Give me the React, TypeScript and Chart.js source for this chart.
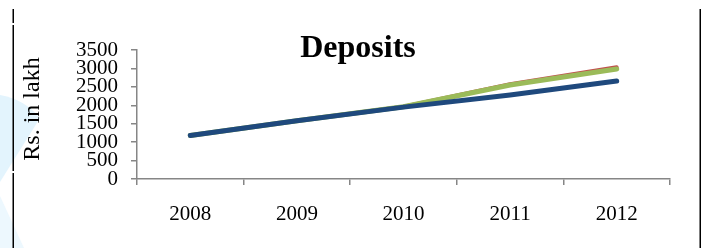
import React, { useEffect, useRef } from "react";
import { Chart, registerables } from "chart.js";

Chart.register(...registerables);

const years = ["2008", "2009", "2010", "2011", "2012"];
const seriesBlue = [1180, 1580, 1950, 2280, 2660];
const seriesGreen = [1180, 1580, 1960, 2550, 2985];
const seriesRed = [1180, 1580, 1960, 2570, 3030];
const yMin = 0;
const yMax = 3500;
const yStep = 500;
const chartTitle = "Deposits";
const yTitle = "Rs. in lakh";

const FONT = "'Liberation Serif', 'Times New Roman', serif";

const titlePlugin = {
  id: "customTitle",
  afterDraw(chart: any) {
    const ctx = chart.ctx;
    ctx.save();
    ctx.font = `bold 32px ${FONT}`;
    ctx.fillStyle = "#000";
    ctx.textAlign = "center";
    ctx.textBaseline = "alphabetic";
    ctx.fillText(chartTitle, 358, 57);
    ctx.translate(33, 109);
    ctx.rotate(-Math.PI / 2);
    ctx.font = `24px ${FONT}`;
    ctx.textBaseline = "middle";
    ctx.fillText(yTitle, 0, 0);
    ctx.restore();
  },
};

export default function App() {
  const ref = useRef<HTMLCanvasElement | null>(null);

  useEffect(() => {
    if (!ref.current) return;
    const chart = new Chart(ref.current, {
      type: "line",
      data: {
        labels: years,
        datasets: [
          {
            label: "Series 3",
            data: seriesBlue,
            borderColor: "#1F497D",
            backgroundColor: "#1F497D",
            borderWidth: 5,
            pointRadius: 0,
            borderCapStyle: "round",
            borderJoinStyle: "round",
            tension: 0,
          },
          {
            label: "Series 2",
            data: seriesGreen,
            borderColor: "#9BBB59",
            backgroundColor: "#9BBB59",
            borderWidth: 5,
            pointRadius: 0,
            borderCapStyle: "round",
            borderJoinStyle: "round",
            tension: 0,
          },
          {
            label: "Series 1",
            data: seriesRed,
            borderColor: "#C0504D",
            backgroundColor: "#C0504D",
            borderWidth: 4,
            pointRadius: 0,
            borderCapStyle: "round",
            borderJoinStyle: "round",
            tension: 0,
          },
        ],
      },
      options: {
        animation: false,
        responsive: false,
        maintainAspectRatio: false,
        layout: { padding: { top: 50, right: 32, left: 0, bottom: 0 } },
        plugins: {
          legend: { display: false },
          title: { display: false },
          tooltip: { enabled: false },
        },
        scales: {
          x: {
            type: "category",
            offset: true,
            afterFit: (s: any) => {
              s.height = 69;
            },
            grid: {
              offset: true,
              drawOnChartArea: false,
              drawTicks: true,
              tickLength: 6,
              color: "#868686",
              lineWidth: 1.5,
            },
            border: { color: "#868686", width: 1.5 },
            ticks: {
              font: { family: FONT, size: 21 },
              color: "#000",
              padding: 17,
              maxRotation: 0,
            },
          },
          y: {
            min: yMin,
            max: yMax,
            afterFit: (s: any) => {
              s.width = 137;
            },
            grid: {
              drawOnChartArea: false,
              drawTicks: true,
              tickLength: 6,
              color: "#868686",
              lineWidth: 1.5,
            },
            border: { color: "#868686", width: 1.5 },
            ticks: {
              stepSize: yStep,
              autoSkip: false,
              font: { family: FONT, size: 21, lineHeight: 1 },
              color: "#000",
              padding: 13,
              callback: (v: any) => String(v),
            },
          },
        },
      },
      plugins: [titlePlugin],
    });
    return () => chart.destroy();
  }, []);

  return (
    <div
      style={{
        position: "fixed",
        left: 0,
        top: 0,
        width: 702,
        height: 248,
        background: "#fff",
        overflow: "hidden",
      }}
    >
      <svg
        width={702}
        height={248}
        style={{ position: "absolute", left: 0, top: 0 }}
      >
        <path d="M0,95 Q24,99 40,118 L0,182 Z" fill="#E3F4FD" />
        <path d="M0,196 L24,248 L0,248 Z" fill="#EDF8FE" />
        <rect x={12.5} y={9} width={1.5} height={14} fill="#000" />
        <rect x={12.5} y={25} width={1.5} height={146} fill="#000" />
        <rect x={12.5} y={173} width={1.5} height={75} fill="#000" />
        <rect x={699.5} y={9} width={1.5} height={239} fill="#000" />
      </svg>
      <canvas
        ref={ref}
        width={702}
        height={248}
        style={{ position: "absolute", left: 0, top: 0, width: 702, height: 248 }}
      />
    </div>
  );
}
